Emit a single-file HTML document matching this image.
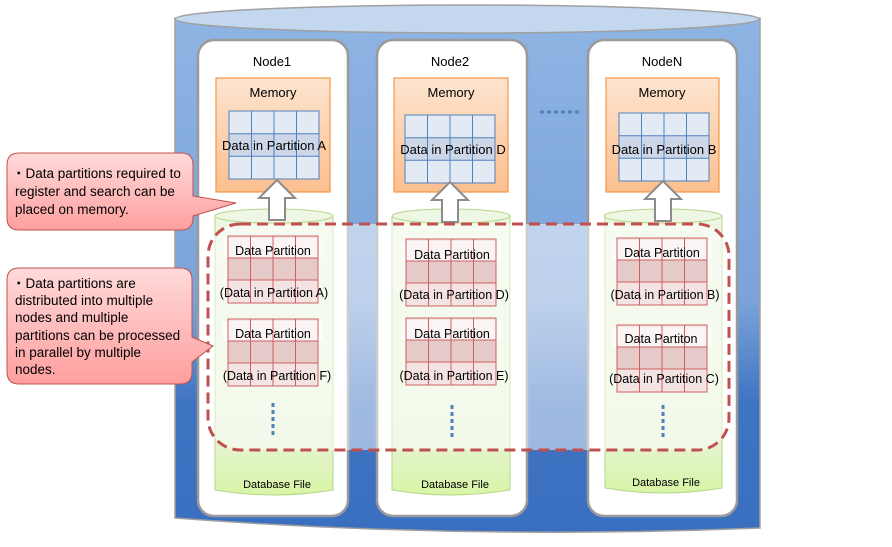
<!DOCTYPE html>
<html><head><meta charset="utf-8"><style>
html,body{margin:0;padding:0;background:#fff;}
svg text{font-family:"Liberation Sans","DejaVu Sans",sans-serif;}
</style></head><body>
<svg width="892" height="542" viewBox="0 0 892 542" xmlns="http://www.w3.org/2000/svg">
<defs>
<linearGradient id="cyl" x1="0" y1="0" x2="0" y2="1">
<stop offset="0" stop-color="#8eb4e3"/><stop offset="0.55" stop-color="#7ba3d9"/><stop offset="0.75" stop-color="#3f74c2"/><stop offset="1" stop-color="#3a6fc0"/></linearGradient>
<linearGradient id="mem" x1="0" y1="0" x2="0" y2="1">
<stop offset="0" stop-color="#fde4d0"/><stop offset="1" stop-color="#fbbf8f"/></linearGradient>
<linearGradient id="grn" x1="0" y1="0" x2="0" y2="1">
<stop offset="0" stop-color="#eef6e4"/><stop offset="0.8" stop-color="#e6f3d4"/><stop offset="1" stop-color="#d8f5a6"/></linearGradient>
<linearGradient id="call" x1="0" y1="0" x2="0" y2="1">
<stop offset="0" stop-color="#ffdada"/><stop offset="1" stop-color="#ff9f9f"/></linearGradient>
<g id="memgrid">
<rect x="0" y="0" width="90" height="68" fill="#e4eaf4" stroke="#4f81bd" stroke-width="1"/>
<rect x="0" y="22.7" width="90" height="22.7" fill="#cdd7e8"/>
<path d="M22.5 0V68M45 0V68M67.5 0V68M0 22.7H90M0 45.3H90" stroke="#4f81bd" stroke-width="1" fill="none"/>
<rect x="0" y="0" width="90" height="68" fill="none" stroke="#4f81bd"/>
</g>
<g id="dpgrid">
<rect x="0" y="0" width="90" height="67" fill="#f3e3e3"/>
<rect x="0" y="22" width="90" height="22" fill="#e6c9c9"/>
<rect x="-5" y="2" width="100" height="20" fill="#fff" opacity="0.6"/>
<path d="M22.5 0V67M45 0V67M67.5 0V67M0 22H90M0 44H90" stroke="#d06060" stroke-width="1" fill="none"/>
<rect x="0" y="0" width="90" height="67" fill="none" stroke="#d06060"/>
</g>
<g id="arrow">
<path d="M-8 40V18H-18L0 0L18 18H8V40Z" fill="#fff" stroke="#8c8c8c" stroke-width="2"/>
</g>
</defs>

<path d="M175 18V518Q467 540 760 528V18Z" fill="url(#cyl)" stroke="#a0a0a0" stroke-width="1.5"/>
<ellipse cx="467" cy="19" rx="292" ry="14" fill="#c3d7ef" stroke="#a0a0a0" stroke-width="1.5"/>

<rect x="198" y="40" width="150" height="476" rx="16" fill="#fff" stroke="#9a9a9a" stroke-width="2.5"/>
<rect x="377" y="40" width="150" height="476" rx="16" fill="#fff" stroke="#9a9a9a" stroke-width="2.5"/>
<rect x="588" y="40" width="149" height="476" rx="16" fill="#fff" stroke="#9a9a9a" stroke-width="2.5"/>
<g font-size="13" text-anchor="middle" fill="#000">
<text x="272" y="66">Node1</text><text x="450" y="66">Node2</text><text x="662" y="66">NodeN</text>
</g>

<path d="M540 112H582" stroke="#4f81bd" stroke-width="3" stroke-dasharray="4 3"/>

<rect x="216" y="78" width="114" height="114" fill="url(#mem)" stroke="#f79646" stroke-width="1.2"/>
<rect x="394" y="78" width="114" height="114" fill="url(#mem)" stroke="#f79646" stroke-width="1.2"/>
<rect x="606" y="78" width="113" height="114" fill="url(#mem)" stroke="#f79646" stroke-width="1.2"/>
<g font-size="13" text-anchor="middle">
<text x="273" y="97">Memory</text><text x="451" y="97">Memory</text><text x="662" y="97">Memory</text>
</g>
<use href="#memgrid" x="229" y="111"/>
<use href="#memgrid" x="405" y="115"/>
<use href="#memgrid" x="619" y="113"/>
<g font-size="13" text-anchor="middle">
<text x="274" y="150">Data in Partition A</text>
<text x="453" y="154">Data in Partition D</text>
<text x="664" y="154">Data in Partition B</text>
</g>

<g stroke="#b5d68a" stroke-width="1">
<path d="M215 216V490Q274 500 333 490V216Z" fill="url(#grn)"/>
<ellipse cx="274" cy="216" rx="59" ry="7" fill="#eef6e4"/>
<path d="M392 216V490Q451 500 510 490V216Z" fill="url(#grn)"/>
<ellipse cx="451" cy="216" rx="59" ry="7" fill="#eef6e4"/>
<path d="M605 216V488Q663 498 722 488V216Z" fill="url(#grn)"/>
<ellipse cx="663" cy="216" rx="59" ry="7" fill="#eef6e4"/>
</g>

<use href="#arrow" x="277" y="180"/>
<use href="#arrow" x="450" y="182"/>
<use href="#arrow" x="663" y="181"/>

<rect x="208" y="224" width="521" height="226" rx="32" fill="#fff" fill-opacity="0.5" stroke="#c0504d" stroke-width="3" stroke-dasharray="11 6"/>

<use href="#dpgrid" x="228" y="236"/>
<use href="#dpgrid" x="228" y="319"/>
<use href="#dpgrid" x="406" y="239"/>
<use href="#dpgrid" x="406" y="318"/>
<use href="#dpgrid" x="617" y="238"/>
<use href="#dpgrid" x="617" y="325"/>
<g font-size="12.5" text-anchor="middle">
<text x="273" y="255">Data Partition</text><text x="274" y="297">(Data in Partition A)</text>
<text x="273" y="338">Data Partition</text><text x="277" y="380">(Data in Partition F)</text>
<text x="452" y="259">Data Partition</text><text x="454" y="299">(Data in Partition D)</text>
<text x="452" y="338">Data Partition</text><text x="454" y="380">(Data in Partition E)</text>
<text x="662" y="257">Data Partition</text><text x="665" y="299">(Data in Partition B)</text>
<text x="661" y="343">Data Partiton</text><text x="664" y="383">(Data in Partition C)</text>
</g>
<g stroke="#4f81bd" stroke-width="3" stroke-dasharray="4 3">
<path d="M273 403V438"/><path d="M452 405V440"/><path d="M663 405V440"/>
</g>
<g font-size="11" text-anchor="middle">
<text x="277" y="488">Database File</text><text x="455" y="488">Database File</text><text x="666" y="486">Database File</text>
</g>

<path d="M19 153H181Q193 153 193 165V196L236 203L193 216V218Q193 230 181 230H19Q7 230 7 218V165Q7 153 19 153Z" fill="url(#call)" stroke="#c0504d" stroke-width="1"/>
<path d="M19 268H180Q192 268 192 280V337L213 346L192 362V372Q192 384 180 384H19Q7 384 7 372V280Q7 268 19 268Z" fill="url(#call)" stroke="#c0504d" stroke-width="1"/>
<g font-size="13.5" fill="#000">
<text x="12" y="178">・Data partitions required to</text>
<text x="15" y="196">register and search can be</text>
<text x="15" y="214">placed on memory.</text>
<text x="12" y="288">・Data partitions are</text>
<text x="15" y="305">distributed into multiple</text>
<text x="15" y="322">nodes and multiple</text>
<text x="15" y="340">partitions can be processed</text>
<text x="15" y="357">in parallel by multiple</text>
<text x="15" y="374">nodes.</text>
</g>
</svg>
</body></html>
